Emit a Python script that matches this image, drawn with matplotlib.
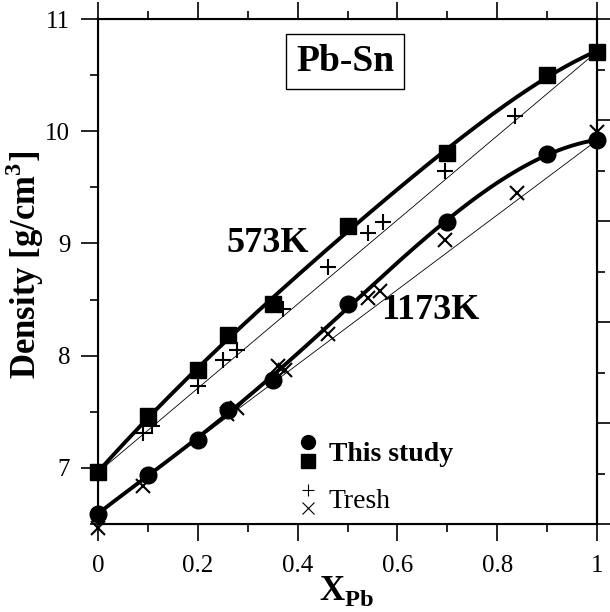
import numpy as np
import matplotlib
matplotlib.use("Agg")
import matplotlib.pyplot as plt
from matplotlib.lines import Line2D
from matplotlib.legend_handler import HandlerBase
from matplotlib.ticker import MultipleLocator, NullFormatter

plt.rcParams['font.family'] = ['Liberation Serif', 'DejaVu Serif']
plt.rcParams['mathtext.fontset'] = 'custom'
plt.rcParams['mathtext.rm'] = 'Liberation Serif'
plt.rcParams['mathtext.bf'] = 'Liberation Serif:bold'

# this study, 573K (squares) and 1173K (circles)
x_study = [0.0, 0.1, 0.2, 0.26, 0.35, 0.5, 0.7, 0.9, 1.0]
rho_573 = [6.96, 7.46, 7.87, 8.18, 8.46, 9.16, 9.81, 10.50, 10.71]
rho_1173 = [6.59, 6.94, 7.25, 7.52, 7.78, 8.46, 9.19, 9.80, 9.92]

# Tresh, 573K (+) and 1173K (x)
x_tresh_573 = [0.09, 0.108, 0.2, 0.25, 0.278, 0.371, 0.461, 0.541, 0.571, 0.695, 0.836]
rho_tresh_573 = [7.31, 7.37, 7.73, 7.96, 8.05, 8.42, 8.79, 9.09, 9.19, 9.65, 10.14]
x_tresh_1173 = [0.0, 0.09, 0.258, 0.278, 0.36, 0.375, 0.46, 0.541, 0.565, 0.695, 0.84, 1.0]
rho_tresh_1173 = [6.46, 6.84, 7.48, 7.53, 7.91, 7.87, 8.19, 8.51, 8.58, 9.03, 9.45, 9.99]


def smooth_curve(x, y, deg=5, n=300):
    # smooth fitted curve through the measured points
    c = np.polyfit(x, y, deg)
    xs = np.linspace(min(x), max(x), n)
    return xs, np.polyval(c, xs)


class StackHandler(HandlerBase):
    def create_artists(self, legend, orig_handle, xdescent, ydescent, width, height, fontsize, trans):
        arts = []
        n = len(orig_handle)
        for i, h in enumerate(orig_handle):
            yy = height * (1 - (i + 0.5) / n) - ydescent
            ln = Line2D([width / 2 - xdescent], [yy], linestyle='none', marker=h.get_marker(),
                        markersize=h.get_markersize(), color='k', markeredgewidth=h.get_markeredgewidth())
            ln.set_transform(trans)
            arts.append(ln)
        return arts


fig = plt.figure(figsize=(6.1, 6.12), dpi=100)
ax = fig.add_axes([0.1607, 0.1438, 0.818, 0.825])

# ideal lines
ax.plot([x_study[0], x_study[-1]], [rho_573[0], rho_573[-1]], color='k', lw=0.6)
ax.plot([x_study[0], x_study[-1]], [rho_1173[0], rho_1173[-1]], color='k', lw=0.6)

xs, ys = smooth_curve(x_study, rho_573)
ax.plot(xs, ys, color='k', lw=2.8)
xs, ys = smooth_curve(x_study, rho_1173)
ax.plot(xs, ys, color='k', lw=2.8)

ax.plot(x_tresh_573, rho_tresh_573, '+', color='k', ms=12, mew=1.5, clip_on=False)
ax.plot(x_tresh_1173, rho_tresh_1173, 'x', color='k', ms=10, mew=1.5, clip_on=False)
ax.plot(x_study, rho_573, 's', color='k', ms=11, clip_on=False, zorder=5)
ax.plot(x_study, rho_1173, 'o', color='k', ms=12, clip_on=False, zorder=5)

ax.set_xlim(0, 1)
ax.set_ylim(6.5, 11)
ax.xaxis.set_minor_locator(MultipleLocator(0.1))
ax.yaxis.set_major_locator(MultipleLocator(1))
ax.yaxis.set_minor_locator(MultipleLocator(0.5))
ax.set_xticks([0, 0.2, 0.4, 0.6, 0.8, 1.0])
ax.set_xticklabels(['0', '0.2', '0.4', '0.6', '0.8', '1'])
ax.tick_params(which='both', direction='out', top=True, width=1.2, labelsize=18)
ax.tick_params(which='major', length=12, pad=8)
ax.tick_params(which='minor', length=6)
ax.tick_params(axis='x', which='major', pad=10)
for s in ax.spines.values():
    s.set_linewidth(1.5)

# right hand scale (unlabelled ticks)
ax2 = ax.twinx()
ax2.set_ylim(0, 5)
ax2.yaxis.set_major_locator(MultipleLocator(1))
ax2.yaxis.set_minor_locator(MultipleLocator(0.5))
ax2.yaxis.set_major_formatter(NullFormatter())
ax2.tick_params(which='both', direction='out', width=1.2)
ax2.tick_params(which='major', length=10)
ax2.tick_params(which='minor', length=6)
ax2.spines['right'].set_linewidth(1.5)

ax.set_ylabel('Density [g/cm$^\\mathbf{3}$]', fontsize=25, fontweight='bold')
ax.yaxis.set_label_coords(-0.104, 0.513)
ax.set_xlabel('$\\mathbf{X}_{\\mathbf{Pb}}$', fontsize=25)
ax.xaxis.set_label_coords(0.497, -0.1)

ax.text(0.341, 9.0, '573K', fontsize=26, fontweight='bold', ha='center', va='center')
ax.text(0.665, 8.40, '1173K', fontsize=26, fontweight='bold', ha='center', va='center')
ax.text(0.495, 10.62, 'Pb-Sn', fontsize=27, fontweight='bold', ha='center', va='center',
        bbox=dict(boxstyle='square,pad=0.27', fc='white', ec='k', lw=1.0))

h_circ = Line2D([], [], marker='o', ms=10, mew=1)
h_sq = Line2D([], [], marker='s', ms=10, mew=1)
h_plus = Line2D([], [], marker='+', ms=8, mew=0.8)
h_x = Line2D([], [], marker='x', ms=8, mew=0.8)
leg = ax.legend([(h_circ, h_sq), (h_plus, h_x)], ['This study', 'Tresh'],
                handler_map={tuple: StackHandler()}, loc='lower left',
                bbox_to_anchor=(0.348, -0.037), frameon=False, handlelength=0.8,
                handleheight=1.7, handletextpad=0.35, labelspacing=0.35, fontsize=20)
leg.get_texts()[0].set_fontweight('bold')

fig.savefig('out.png', dpi=100)
